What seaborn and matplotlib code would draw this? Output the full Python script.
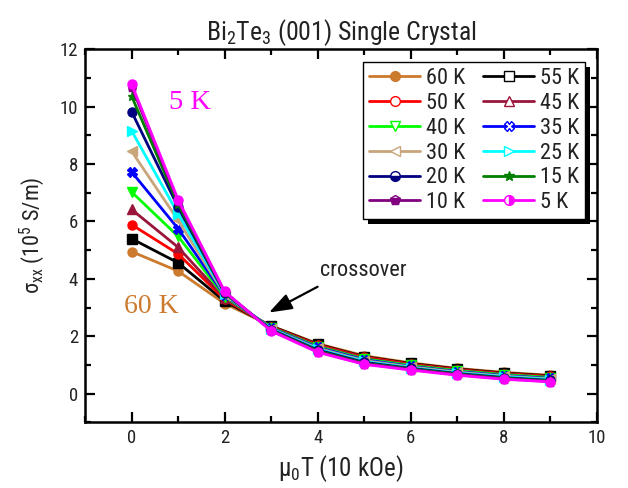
import matplotlib
matplotlib.use("Agg")
import matplotlib.pyplot as plt
import seaborn as sns
from matplotlib.lines import Line2D
from matplotlib.patches import Rectangle
from matplotlib import font_manager

# ---------------- data ----------------
field = [0, 1, 2, 3, 4, 5, 6, 7, 8, 9]
temps = ["60 K", "55 K", "50 K", "45 K", "40 K", "35 K", "30 K", "25 K", "20 K", "15 K", "10 K", "5 K"]
s60 = [4.95, 4.27, 3.14, 2.36, 1.74, 1.32, 1.07, 0.88, 0.74, 0.64]
s55 = [5.40, 4.56, 3.22, 2.35, 1.72, 1.29, 1.05, 0.86, 0.72, 0.62]
s50 = [5.89, 4.87, 3.28, 2.33, 1.70, 1.27, 1.03, 0.84, 0.70, 0.60]
s45 = [6.42, 5.10, 3.33, 2.32, 1.67, 1.24, 1.00, 0.82, 0.68, 0.58]
s40 = [7.03, 5.48, 3.38, 2.30, 1.64, 1.21, 0.98, 0.80, 0.66, 0.56]
s35 = [7.73, 5.75, 3.42, 2.28, 1.61, 1.18, 0.95, 0.77, 0.63, 0.53]
s30 = [8.45, 6.04, 3.45, 2.26, 1.58, 1.15, 0.93, 0.75, 0.61, 0.51]
s25 = [9.16, 6.27, 3.48, 2.25, 1.55, 1.12, 0.90, 0.72, 0.59, 0.49]
s20 = [9.83, 6.50, 3.50, 2.23, 1.52, 1.09, 0.88, 0.70, 0.56, 0.46]
s15 = [10.37, 6.60, 3.52, 2.21, 1.49, 1.06, 0.86, 0.68, 0.54, 0.44]
s10 = [10.70, 6.70, 3.54, 2.20, 1.46, 1.04, 0.84, 0.66, 0.52, 0.42]
s5 = [10.79, 6.76, 3.56, 2.18, 1.44, 1.02, 0.82, 0.64, 0.50, 0.41]
series = [s60, s55, s50, s45, s40, s35, s30, s25, s20, s15, s10, s5]

colors = ["#CC7A2E", "#000000", "#FF0000", "#99163A", "#00FF00", "#0000FF",
          "#C8A57A", "#00FFFF", "#000080", "#007F00", "#800080", "#FF00FF"]
markers = ["o", "s", "o", "^", "v", "X", "<", ">", "o", "*", "p", "o"]

# ---------------- style ----------------
sns.set_theme(style="ticks")
installed = {f.name for f in font_manager.fontManager.ttflist}
main = "Lato"
for cand in ["Liberation Sans Narrow", "Roboto Condensed", "Open Sans Condensed", "Lato"]:
    if cand in installed:
        main = cand
        break
FONT = [main, "DejaVu Sans"]
plt.rcParams["font.family"] = FONT
plt.rcParams["mathtext.fontset"] = "custom"
plt.rcParams["mathtext.rm"] = main
plt.rcParams["mathtext.it"] = main
plt.rcParams["mathtext.default"] = "regular"

fig = plt.figure(figsize=(6.28, 4.88), dpi=100)
ax = fig.add_axes([85 / 628, 1 - 422.3 / 488, (597 - 85) / 628, (422.3 - 49.3) / 488])

for vals, c, m in zip(series, colors, markers):
    sns.lineplot(x=field, y=vals, ax=ax, color=c, marker=m, markersize=6.5,
                 markeredgecolor=c, markerfacecolor=c, markeredgewidth=1,
                 linewidth=2, legend=False)

ax.set_xlim(-1, 10)
ax.set_ylim(-1, 12)
ax.set_xticks([0, 2, 4, 6, 8, 10])
ax.set_xticks([-1, 1, 3, 5, 7, 9], minor=True)
ax.set_yticks([0, 2, 4, 6, 8, 10, 12])
ax.set_yticks([-1, 1, 3, 5, 7, 9, 11], minor=True)
ax.tick_params(which="both", direction="in", top=True, right=True, width=1.6,
               labelsize=13.5, pad=5, color="black", labelcolor="#222222")
ax.tick_params(which="major", length=7)
ax.tick_params(which="minor", length=4.5)
for sp in ax.spines.values():
    sp.set_linewidth(1.8)
    sp.set_color("black")

ax.set_xlabel(r"$\mu_0$T (10 kOe)", fontsize=18, labelpad=4, color="#222222")
ax.set_ylabel(r"$\sigma_{xx}$ (10$^5$ S/m)", fontsize=16, labelpad=9, color="#222222")
ax.set_title(r"Bi$_2$Te$_3$ (001) Single Crystal", fontsize=18.5, pad=7, color="#222222")

# annotations
ax.text(0.81, 10.15, "5 K", color="#FF00FF", fontsize=20.5, family="Liberation Serif",
        va="center", ha="left")
ax.text(-0.17, 3.05, "60 K", color="#CC7A2E", fontsize=20, family="Liberation Serif",
        va="center", ha="left")
ax.annotate("", xy=(2.9, 2.78), xytext=(4.05, 3.77),
            arrowprops=dict(arrowstyle="-|>,head_length=0.7,head_width=0.25",
                            color="black", lw=1.6, mutation_scale=20))
ax.text(4.05, 4.3, "crossover", fontsize=16, va="center", ha="left", color="#222222")

# legend (row-wise order in two columns)
legend_order = [0, 2, 4, 6, 8, 10, 1, 3, 5, 7, 9, 11]
fills = ["full", "none", "none", "none", "none", "none", "none", "none", "bottom", "full", "bottom", "right"]
handles = []
labels = []
for i in legend_order:
    fs = fills[i]
    mfc = "white" if fs == "none" else colors[i]
    h = Line2D([], [], color=colors[i], marker=markers[i], markersize=7, lw=2,
               markeredgecolor=colors[i], markerfacecolor=mfc,
               fillstyle=fs if fs != "none" else "full",
               markerfacecoloralt="white")
    handles.append(h)
    labels.append(temps[i])
leg = ax.legend(handles, labels, ncol=2, loc="upper right",
                bbox_to_anchor=(0.977, 0.966), fontsize=16, frameon=True,
                fancybox=False, edgecolor="black", framealpha=1,
                handlelength=2.3, handletextpad=0.25, columnspacing=0.8,
                labelspacing=0.17, borderpad=0.28, borderaxespad=0)
leg.get_frame().set_linewidth(1.0)
for t in leg.get_texts():
    t.set_color("#222222")
leg.set_zorder(10)

fig.canvas.draw()
bb = leg.get_window_extent()
inv = ax.transAxes.inverted()
(x0, y0), (x1, y1) = inv.transform([[bb.x0 + 5, bb.y0 - 5], [bb.x1 + 5, bb.y1 - 5]])
ax.add_patch(Rectangle((x0, y0), x1 - x0, y1 - y0, transform=ax.transAxes,
                       facecolor="black", edgecolor="none", zorder=9, clip_on=False))

fig.savefig("out.png", dpi=100)
